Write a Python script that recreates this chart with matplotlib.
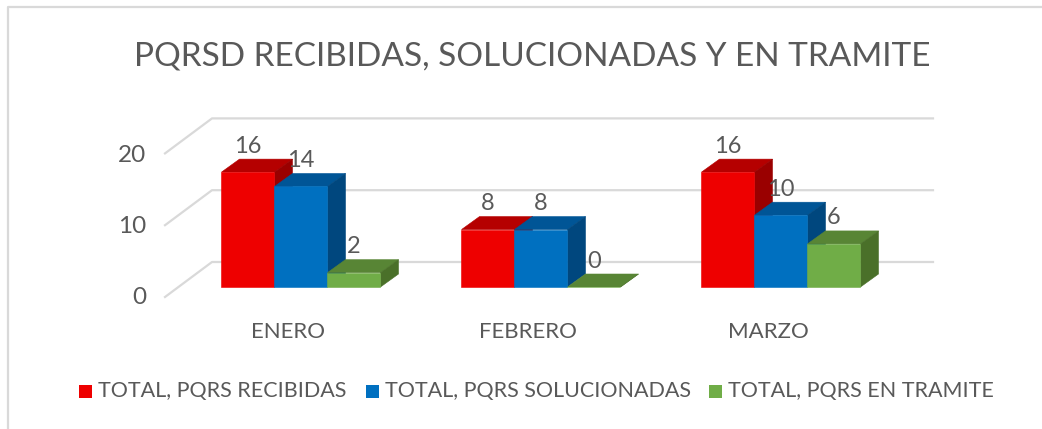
import matplotlib
matplotlib.use("Agg")
import matplotlib.pyplot as plt
from matplotlib.patches import Polygon, Rectangle

TITLE = "PQRSD RECIBIDAS, SOLUCIONADAS Y EN TRAMITE"
months = ["ENERO", "FEBRERO", "MARZO"]
series_names = ["TOTAL, PQRS RECIBIDAS", "TOTAL, PQRS SOLUCIONADAS", "TOTAL, PQRS EN TRAMITE"]
recibidas = [16, 8, 16]
solucionadas = [14, 8, 10]
en_tramite = [2, 0, 6]
y_ticks = [0, 10, 20]

W, H = 1042, 429
PX_X = 240.0   # px per category
PX_Y = 7.18    # px per unit
X0, Y0 = 301.0, 287.0  # pixel of category 0 / value 0

front = ["#EE0000", "#0070C0", "#70AD47"]
top = ["#B50000", "#005596", "#588535"]
side = ["#9A0000", "#00477E", "#4A7029"]
GRID = "#D9D9D9"
TEXT = "#595959"

BAR_W = 53 / PX_X
DX, DY = 18 / PX_X, 13 / PX_Y

plt.rcParams["font.family"] = ["Lato", "DejaVu Sans"]

fig = plt.figure(figsize=(W / 100, H / 100), dpi=100)
ax = fig.add_axes([0, 0, 1, 1])
ax.set_xlim(-X0 / PX_X, (W - X0) / PX_X)
ax.set_ylim(-(H - Y0) / PX_Y, Y0 / PX_Y)
ax.axis("off")


def px(x, y):
    """pixel position (from top left) to data coords"""
    return (x - X0) / PX_X, (Y0 - y) / PX_Y


# walls and gridlines
for v in y_ticks:
    a = px(165, 297 - v * PX_Y)
    b = px(212, 262 - v * PX_Y)
    c = px(933, 262 - v * PX_Y)
    ax.plot([a[0], b[0], c[0]], [a[1], b[1], c[1]], color=GRID, lw=1.6, zorder=1)
    lx, ly = px(146, 297.5 - v * 7.1)
    ax.text(lx, ly, str(v), color=TEXT, fontsize=17.5, ha="right", va="center")


def bar3d(x, v, i):
    x2 = x + BAR_W
    ax.add_patch(Polygon([(x, v), (x + DX, v + DY), (x2 + DX, v + DY), (x2, v)], fc=top[i], ec=top[i], lw=0.4, zorder=3))
    ax.add_patch(Polygon([(x2, 0), (x2 + DX, DY), (x2 + DX, v + DY), (x2, v)], fc=side[i], ec=side[i], lw=0.4, zorder=3))
    ax.add_patch(Rectangle((x, 0), BAR_W, v, fc=front[i], ec=front[i], lw=0.4, zorder=3))


for m, name in enumerate(months):
    left = m - 1.5 * BAR_W
    for i, vals in enumerate([recibidas, solucionadas, en_tramite]):
        bar3d(left + i * BAR_W, vals[m], i)
    for i, vals in enumerate([recibidas, solucionadas, en_tramite]):
        ax.text(left + i * BAR_W + BAR_W / 2, vals[m] + 26 / PX_Y, str(vals[m]), color=TEXT,
                fontsize=17, ha="center", va="center", zorder=5)
    lx, ly = px(X0 + m * PX_X - 13, 332)
    ax.text(lx, ly, name, color=TEXT, fontsize=16, ha="center", va="center")

# title
tx, ty = px(532, 57)
ax.text(tx, ty, TITLE, color=TEXT, fontsize=24, ha="center", va="center")

# legend
for i, (sx, tx) in enumerate(zip([79, 366, 709], [98, 385, 728])):
    x0, y0 = px(sx, 398)
    ax.add_patch(Rectangle((x0, y0), 13 / PX_X, 13 / PX_Y, fc=front[i], ec="none"))
    lx, ly = px(tx, 391)
    ax.text(lx, ly, series_names[i], color=TEXT, fontsize=15.5, ha="left", va="center")

# chart frame
fx, fy = px(8, 429)
gx, gy = px(8, 7)
hx, hy = px(1042, 7)
ax.plot([fx, gx, hx], [fy, gy, hy], color=GRID, lw=1.6, zorder=1)

fig.savefig("out.png", dpi=100)
